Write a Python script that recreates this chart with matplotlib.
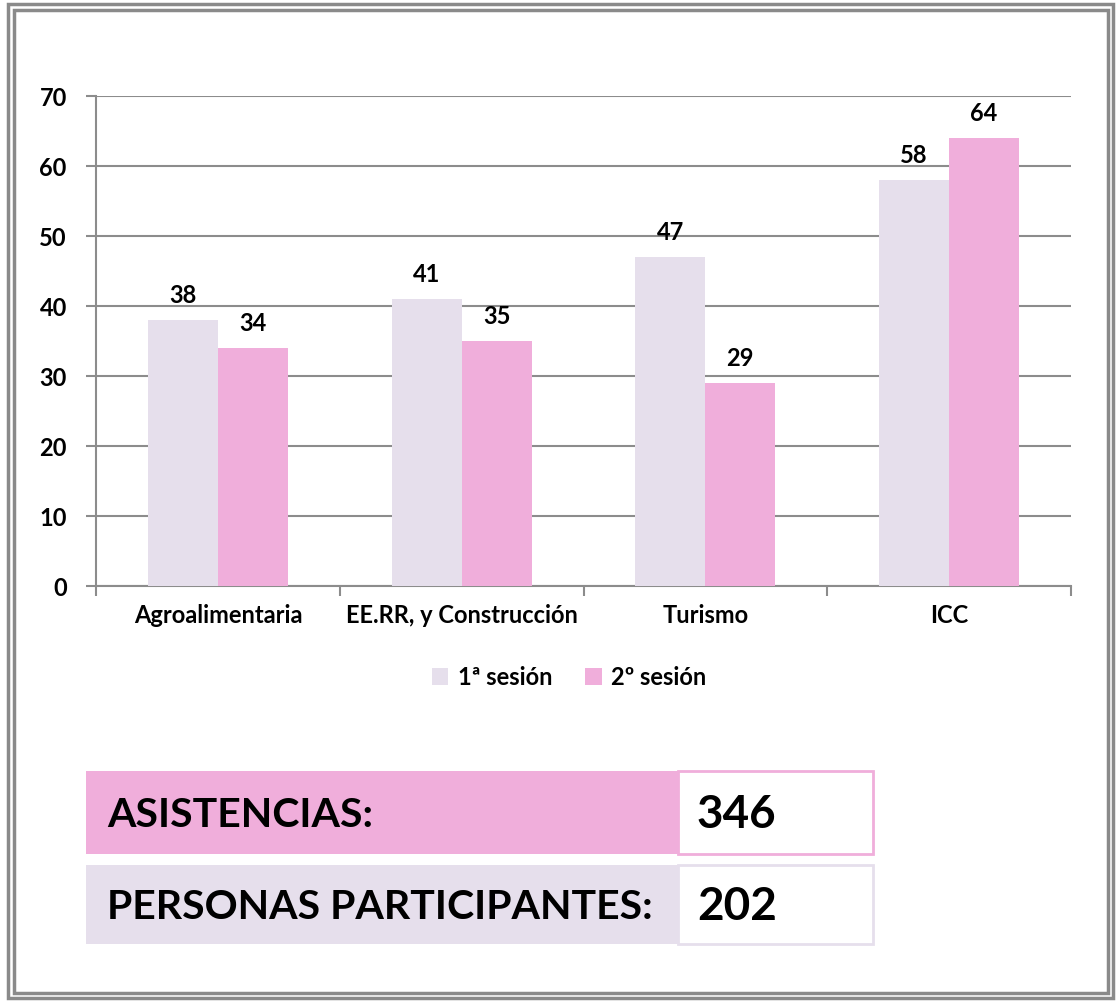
import matplotlib.pyplot as plt
from matplotlib.patches import Rectangle
import numpy as np

plt.rcParams['font.family'] = ['Lato', 'DejaVu Sans']
plt.rcParams['font.weight'] = 'bold'

categorias = ['Agroalimentaria', 'EE.RR, y Construcción', 'Turismo', 'ICC']
sesion1 = [38, 41, 47, 58]
sesion2 = [34, 35, 29, 64]
series = ['1ª sesión', '2º sesión']
resumen_etiquetas = ['ASISTENCIAS:', 'PERSONAS PARTICIPANTES:']
resumen_valores = [346, 202]

c1 = '#e6dfec'
c2 = '#f0aedb'
grid_c = '#8c8c8c'
fs = 17

W, H = 1120, 1004
fig = plt.figure(figsize=(W / 100, H / 100), dpi=100)

# background axes in pixel coords for frame + summary boxes
bg = fig.add_axes([0, 0, 1, 1])
bg.set_xlim(0, W)
bg.set_ylim(H, 0)
bg.axis('off')
bg.add_patch(Rectangle((8, 5), 1105, 994, fill=False, ec='#8a8a8a', lw=2.5))
bg.add_patch(Rectangle((14, 11), 1094, 983, fill=False, ec='#8a8a8a', lw=2.5))

row_y = [772, 866]
row_h = [83, 79]
fills = [c2, c1]
for i in range(2):
    bg.add_patch(Rectangle((86, row_y[i]), 592, row_h[i], fc=fills[i], ec='none'))
    bg.add_patch(Rectangle((678, row_y[i]), 195, row_h[i], fc='white', ec=fills[i], lw=2))
    bg.text(107, row_y[i] + row_h[i] / 2 + 2, resumen_etiquetas[i], fontsize=29.5,
            fontweight='bold', va='center', ha='left', color='black')
    bg.text(697, row_y[i] + row_h[i] / 2 + 2, str(resumen_valores[i]), fontsize=33,
            fontweight='bold', va='center', ha='left', color='black')

# chart
ax = fig.add_axes([96 / W, 1 - 587 / H, 975 / W, 490 / H])
x = np.arange(len(categorias))
bw = 0.287
b1 = ax.bar(x - bw / 2, sesion1, bw, color=c1, label=series[0], zorder=3)
b2 = ax.bar(x + bw / 2, sesion2, bw, color=c2, label=series[1], zorder=3)
for bars in (b1, b2):
    for r in bars:
        ax.annotate(str(int(r.get_height())), (r.get_x() + r.get_width() / 2, r.get_height()),
                    xytext=(0, 10), textcoords='offset points', ha='center', va='bottom',
                    fontsize=fs, fontweight='bold')

ax.set_xlim(-0.5, len(categorias) - 0.5)
ax.set_ylim(0, 70)
ax.set_yticks(range(0, 71, 10))
ax.yaxis.grid(True, color=grid_c, lw=1.5, zorder=0)
ax.set_axisbelow(True)
for s in ['top', 'right']:
    ax.spines[s].set_visible(False)
ax.spines['left'].set_color(grid_c)
ax.spines['bottom'].set_color(grid_c)
ax.spines['left'].set_linewidth(1.5)
ax.spines['bottom'].set_linewidth(1.5)

ax.set_xticks(np.arange(-0.5, len(categorias)), minor=False)
ax.set_xticklabels([])
ax.set_xticks(x, minor=True)
ax.set_xticklabels(categorias, minor=True, fontsize=fs, fontweight='bold')
ax.tick_params(axis='x', which='major', length=7, color=grid_c, width=1.5)
ax.tick_params(axis='x', which='minor', length=0, pad=12)
ax.tick_params(axis='y', length=7, color=grid_c, width=1.5, labelsize=fs, pad=14)
for t in ax.get_yticklabels():
    t.set_fontweight('bold')

fig.legend(handles=[b1, b2], labels=series, loc='center', bbox_to_anchor=(569 / W, 1 - 678 / H),
           ncol=2, frameon=False, prop={'size': fs, 'weight': 'bold'},
           handlelength=0.7, handleheight=0.7, handletextpad=0.4, columnspacing=1.4)

fig.savefig('out.png', dpi=100)
